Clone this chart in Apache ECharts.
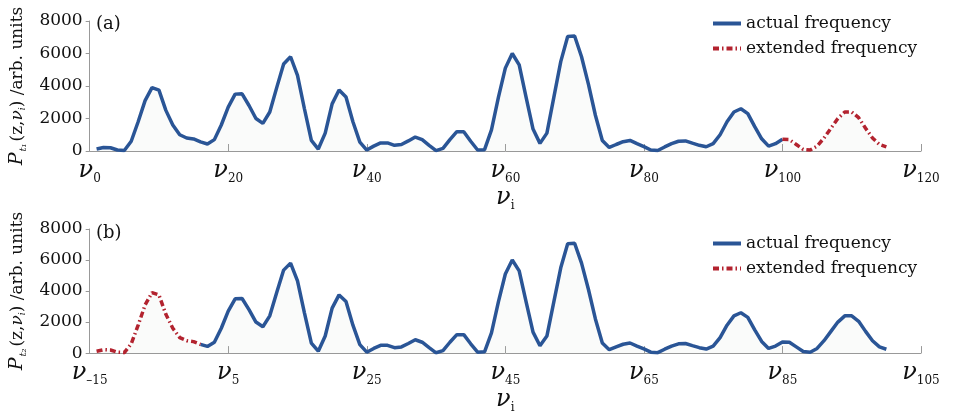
<!DOCTYPE html>
<html>
<head>
  <meta charset="utf-8">
  <style>
    body { margin: 0; background: #fff; }
    #container { width: 954px; height: 415px; }
  </style>
</head>
<body>
  <div id="container"></div>
  <script src="https://cdn.jsdelivr.net/npm/echarts@6/dist/echarts.min.js"></script>
  <script>
    // spectrum, one value per frequency index nu1 .. nu115
    var power = [
      120, 220, 200, 60, 30, 600, 1800, 3100, 3900, 3750,
      2500, 1600, 1000, 800, 740, 560, 430, 700, 1600, 2700,
      3500, 3520, 2800, 2000, 1700, 2400, 3900, 5350, 5800, 4650,
      2600, 650, 120, 1100, 2900, 3750, 3320, 1800, 550, 60,
      300, 500, 500, 350, 400, 620, 860, 700, 350, 20,
      160, 700, 1190, 1190, 600, 60, 80, 1300, 3300, 5100,
      6000, 5300, 3300, 1350, 470, 1100, 3300, 5500, 7050, 7080,
      5800, 4100, 2200, 650, 220, 400, 570, 650, 450, 270,
      60, 30, 250, 450, 600, 620, 480, 350, 260, 450,
      1000, 1800, 2400, 2600, 2300, 1500, 750, 300, 450, 720,
      700, 400, 100, 60, 300, 800, 1400, 2000, 2400, 2400,
      2050, 1400, 800, 400, 250
    ];
    var shiftB = 15;               // panel (b) index = panel (a) index - 15
    var actualEndA = 100;          // panel (a): actual nu1..nu100, extended after
    var extEndB = 16;              // panel (b): extended up to (a) index 16

    var xTicksA = [0, 20, 40, 60, 80, 100, 120];
    var xTicksB = [-15, 5, 25, 45, 65, 85, 105];
    var yTicks = [0, 2000, 4000, 6000, 8000];

    function pts(from, to, shift) {
      var out = [];
      for (var k = from; k <= to; k++) out.push([k - shift, power[k - 1]]);
      return out;
    }

    var blue = '#2a5596';
    var red = '#b3232f';
    var serif = 'DejaVu Serif';

    var nuRich = {
      n: { fontFamily: serif, fontStyle: 'italic', fontSize: 24, color: '#111' },
      s: { fontFamily: serif, fontSize: 12, color: '#111', padding: [16, 0, 0, 0] }
    };

    function xAxis(idx, ticks) {
      return {
        type: 'value', gridIndex: idx,
        min: ticks[0], max: ticks[ticks.length - 1],
        name: '{n|ν}{s|i}', nameLocation: 'middle', nameGap: 32,
        nameTextStyle: { rich: nuRich },
        axisLine: { onZero: false, lineStyle: { color: '#999', width: 1 } },
        axisTick: { inside: true, length: 7, customValues: ticks, lineStyle: { color: '#999' } },
        splitLine: { show: false },
        axisLabel: {
          customValues: ticks, margin: 6,
          formatter: function (v) { return '{n|ν}{s|' + String(v).replace('-', '–') + '}'; },
          rich: nuRich
        }
      };
    }

    function yAxis(idx, sub) {
      return {
        type: 'value', gridIndex: idx, min: 0, max: 8000, interval: 2000,
        name: '{p|P}{t|' + sub + '}{r|(z,}{v|ν}{i|i}{r|) /arb. units}',
        nameLocation: 'middle', nameGap: 53, nameRotate: 90,
        nameTextStyle: {
          rich: {
            p: { fontFamily: serif, fontStyle: 'italic', fontSize: 19, color: '#111' },
            t: { fontFamily: serif, fontStyle: 'italic', fontSize: 10, color: '#111', padding: [12, 2, 0, 1] },
            r: { fontFamily: serif, fontSize: 17, color: '#111' },
            v: { fontFamily: serif, fontStyle: 'italic', fontSize: 17, color: '#111' },
            i: { fontFamily: serif, fontStyle: 'italic', fontSize: 9, color: '#111', padding: [10, 0, 0, 0] }
          }
        },
        axisLine: { show: true, onZero: false, lineStyle: { color: '#999', width: 1 } },
        axisTick: { show: true, inside: false, length: 4, lineStyle: { color: '#999' } },
        splitLine: { show: false },
        axisLabel: {
          customValues: yTicks,
          formatter: function (v) { return String(v); },
          fontFamily: serif, fontSize: 17, color: '#111', margin: 7
        }
      };
    }

    function line(name, xi, data, color, dashed) {
      return {
        name: name, type: 'line', xAxisIndex: xi, yAxisIndex: xi,
        data: data, symbol: 'none', showSymbol: false,
        lineStyle: dashed
          ? { color: color, width: 3.5, type: [6, 3, 1.5, 3] }
          : { color: color, width: 3.5 },
        itemStyle: { color: color },
        areaStyle: { color: 'rgba(200,205,200,0.12)' },
        z: dashed ? 3 : 2
      };
    }

    function legend(top) {
      return {
        orient: 'vertical', left: 706, top: top, itemWidth: 28, itemHeight: 12, itemGap: 8,
        data: ['actual frequency', 'extended frequency'],
        itemStyle: { opacity: 0 },
        lineStyle: { width: 4 },
        textStyle: { fontFamily: serif, fontSize: 17, color: '#111' },
        selectedMode: false
      };
    }

    var chart = echarts.init(document.getElementById('container'), null, { renderer: 'canvas' });

    var option = {
      animation: false,
      grid: [
        { left: 86, right: 33, top: 21, height: 130 },
        { left: 86, right: 33, top: 229, height: 130 }
      ],
      legend: [legend(10), legend(230)],
      xAxis: [xAxis(0, xTicksA), xAxis(1, xTicksB)],
      yAxis: [yAxis(0, 't₁'), yAxis(1, 't₂')],
      series: [
        line('actual frequency', 0, pts(1, actualEndA, 0), blue, false),
        line('extended frequency', 0, pts(actualEndA, power.length, 0), red, true),
        line('actual frequency', 1, pts(extEndB, power.length, shiftB), blue, false),
        line('extended frequency', 1, pts(1, extEndB, shiftB), red, true)
      ],
      graphic: [
        { type: 'text', left: 96, top: 15, style: { text: '(a)', font: '18px "DejaVu Serif"', fill: '#111' } },
        { type: 'text', left: 96, top: 224, style: { text: '(b)', font: '18px "DejaVu Serif"', fill: '#111' } }
      ]
    };

    chart.setOption(option);
    window.addEventListener('resize', chart.resize);
  </script>
</body>
</html>
